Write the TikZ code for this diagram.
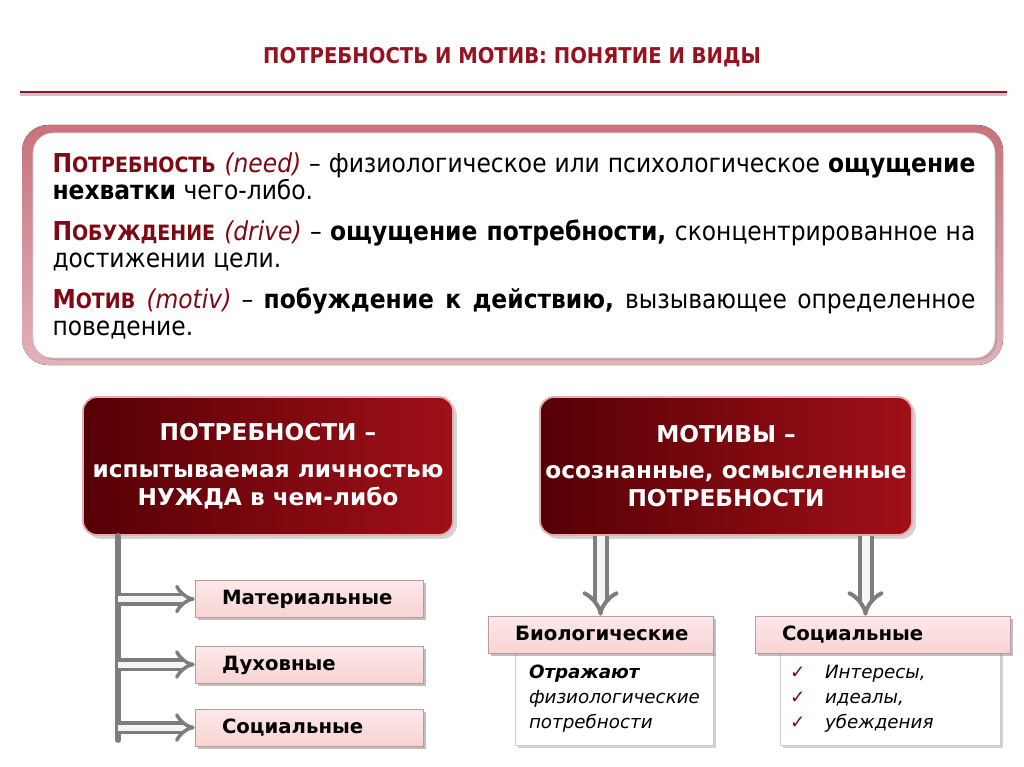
\documentclass[tikz,border=0pt]{standalone}
\usepackage{fontspec}
\setmainfont{DejaVu Sans}
\newfontfamily\deffont{DejaVu Sans Condensed}
\usetikzlibrary{arrows.meta,positioning,calc,shadows}

\definecolor{bordo}{RGB}{85,0,5}
\definecolor{bordolight}{RGB}{160,16,24}
\definecolor{titlered}{RGB}{150,18,32}
\definecolor{termred}{RGB}{128,8,18}
\definecolor{rosebox}{RGB}{251,218,218}
\definecolor{rosedark}{RGB}{230,170,176}
\definecolor{rim}{RGB}{200,115,125}
\definecolor{arrowgray}{RGB}{125,125,125}

\newdimen\pxu \pxu=0.025cm
\newcommand{\fakesc}[2]{#1{\fontsize{15}{19}\selectfont #2}}
\newcommand{\chk}{\makebox[35\pxu][l]{\textcolor{termred}{✓}}}

\tikzset{
  pagetitle/.style={font=\deffont\bfseries\fontsize{15.5}{18}\selectfont, text=titlered},
  defpanel/.style={fill=white, draw=gray!35, rounded corners=20\pxu,
    drop shadow={shadow xshift=1.5pt, shadow yshift=-1.5pt, opacity=.35},
    minimum width=962\pxu, minimum height=225\pxu, inner xsep=19\pxu, inner ysep=0pt},
  bigbox/.style={rounded corners=14\pxu, left color=bordo, right color=bordolight,
    draw=rosedark, line width=1.3pt, text=white, align=center,
    font=\bfseries\fontsize{16.5}{20}\selectfont,
    minimum height=138\pxu, drop shadow={opacity=.35}},
  typebox/.style={top color=rosebox!60!white, bottom color=rosebox!85!rosedark, draw=rosedark!60!gray,
    minimum height=37\pxu, inner xsep=27\pxu, inner ysep=0pt, align=left,
    text depth=2pt, font=\bfseries\fontsize{14}{16}\selectfont,
    drop shadow={shadow xshift=2pt, shadow yshift=-2pt, opacity=.5}},
  notebox/.style={fill=white, draw=gray!40, align=left, inner ysep=0pt,
    font=\itshape\fontsize{13}{17.8}\selectfont,
    drop shadow={shadow xshift=2pt, shadow yshift=-2pt, opacity=.35}},
  hollow/.style={draw=arrowgray, double=white!92!gray, double distance=6\pxu, line width=3.5\pxu,
    -{Implies[length=8.5pt]}},
  hollowdown/.style={draw=arrowgray, double=white!92!gray, double distance=8\pxu, line width=4\pxu,
    -{Implies[length=10pt]}},
  bar/.style={draw=arrowgray, line width=6\pxu, line cap=round},
}

\begin{document}
\begin{tikzpicture}[x=0.025cm,y=-0.025cm]
  \useasboundingbox (0,0) rectangle (1024,767);
  % title and rule
  \node[pagetitle] (title) at (512,57) {ПОТРЕБНОСТЬ И МОТИВ: ПОНЯТИЕ И ВИДЫ};
  \draw[gray!45, line width=3\pxu] (20,95) -- (1007,95);
  \draw[titlered, line width=2.5\pxu] (20,92) -- (1007,92);

  % definitions
  \fill[rounded corners=26\pxu, top color=rim, bottom color=rim!55!white] (22,125) rectangle (1003,365);
  \node[defpanel] (defs) at (514,245.5) {%
    \begin{minipage}{923\pxu}
      \deffont\fontsize{18.5}{19.2}\selectfont\setlength{\parskip}{10pt}%
      {\color{termred}\bfseries\fakesc{П}{ОТРЕБНОСТЬ} \itshape\mdseries (need)} –
      физиологическое или психологическое \textbf{ощущение}\linebreak
      \textbf{нехватки} чего-либо.\par
      {\color{termred}\bfseries\fakesc{П}{ОБУЖДЕНИЕ} \itshape\mdseries (drive)} –
      \textbf{ощущение потребности,} сконцентрированное на\linebreak
      достижении цели.\par
      {\color{termred}\bfseries\fakesc{М}{ОТИВ} \itshape\mdseries (motiv)} –
      \textbf{побуждение к действию,} вызывающее определенное\linebreak
      поведение.
    \end{minipage}};

  % needs
  \node[bigbox, minimum width=370\pxu] (potr) at (268,466)
    {ПОТРЕБНОСТИ –\\[6pt] испытываемая личностью\\ НУЖДА в чем-либо};
  \coordinate (barend) at (118,740);
  \draw[bar] (potr.south -| barend) -- (barend);
  \node[typebox, text width=174\pxu] (mat) at (309,599) {Материальные};
  \node[typebox, text width=174\pxu] (duh) at (309,664.5) {Духовные};
  \node[typebox, text width=174\pxu] (soc) at (309,727.5) {Социальные};
  \foreach \t in {mat,duh,soc}
    \draw[hollow] (\t.west -| barend) -- (\t.west);

  % motives
  \node[bigbox, minimum width=372\pxu] (motv) at (726,466)
    {МОТИВЫ –\\[6pt] осознанные, осмысленные\\ ПОТРЕБНОСТИ};
  \node[notebox, minimum width=198\pxu, minimum height=93\pxu, text width=170\pxu] (bionote) at (614,698.5)
    {\textbf{Отражают}\\ физиологические\\ потребности};
  \node[notebox, minimum width=220\pxu, minimum height=93\pxu, text width=200\pxu] (socnote) at (890,698.5)
    {\chk Интересы,\\ \chk идеалы,\\ \chk убеждения};
  \node[typebox, text width=171\pxu] (bio) at (600.5,634.5) {Биологические};
  \node[typebox, text width=201\pxu] (socm) at (882.5,634.5) {Социальные};
  \draw[hollowdown] (motv.south -| bio.north) -- (bio.north);
  \draw[hollowdown] ([xshift=-17\pxu]motv.south -| socm.north) -- ([xshift=-17\pxu]socm.north);
\end{tikzpicture}
\end{document}
